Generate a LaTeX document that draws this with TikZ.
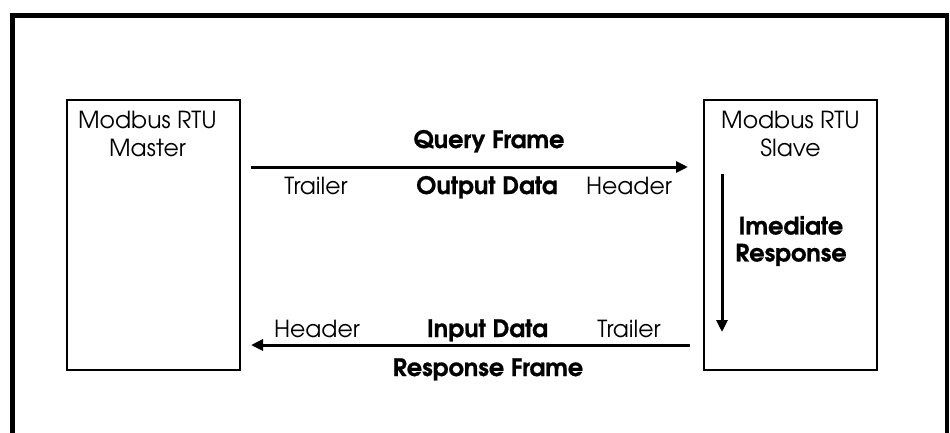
\documentclass[tikz,border=0pt]{standalone}
\usepackage{fontspec}
\setmainfont[BoldFeatures={FakeBold=0.8}]{TeX Gyre Adventor}
\usetikzlibrary{arrows.meta}

\begin{document}
\begin{tikzpicture}[x=1pt, y=-1pt,
    unit/.style={draw, line width=2pt, minimum width=173pt, minimum height=270pt, inner sep=0pt},
    lbl/.style={font=\fontsize{23.5}{28}\selectfont, inner sep=0pt, anchor=base},
    blbl/.style={lbl, font=\fontsize{24}{27}\selectfont\bfseries},
    flow/.style={line width=3pt, -{Triangle[length=12pt,width=11pt]}}]
   \useasboundingbox (0,0) rectangle (950,432);
   % frame, open at the bottom
   \draw[line width=4.5pt] (12.5,445) -- (12.5,15.5) -- (947,15.5) -- (947,445);

   % master and slave
   \node[unit] (master) at (153.5,235) {};
   \node[unit] (slave) at (790.5,235) {};
   \node[lbl, anchor=north, align=center, xshift=-6pt, yshift=-12pt] (mtext) at (master.north) {Modbus RTU\\Master};
   \node[lbl, anchor=north, align=center, yshift=-12pt] (stext) at (slave.north) {Modbus RTU\\Slave};

   % query frame
   \draw[flow, shorten <=10pt, shorten >=15pt] ([yshift=68pt]master.east) -- ([yshift=68pt]slave.west);
   \node[blbl] (qframe) at (489,148) {Query Frame};
   \node[lbl] (otrailer) at (316,194) {Trailer};
   \node[blbl] (odata) at (487,194) {Output Data};
   \node[lbl] (oheader) at (629,194) {Header};

   % response frame
   \draw[flow, shorten <=13pt, shorten >=10pt] ([yshift=-110pt]slave.west) -- ([yshift=-110pt]master.east);
   \node[lbl] (iheader) at (317,337) {Header};
   \node[blbl] (idata) at (487.5,337) {Input Data};
   \node[lbl] (itrailer) at (629,337) {Trailer};
   \node[blbl] (rframe) at (488,376) {Response Frame};

   % turnaround inside the slave
   \draw[flow] ([xshift=19pt,yshift=-75pt]slave.north west) -- ([xshift=19pt,yshift=39pt]slave.south west);
   \node[blbl, anchor=center, align=center] (imresp) at (791,241) {Imediate\\Response};
\end{tikzpicture}
\end{document}
